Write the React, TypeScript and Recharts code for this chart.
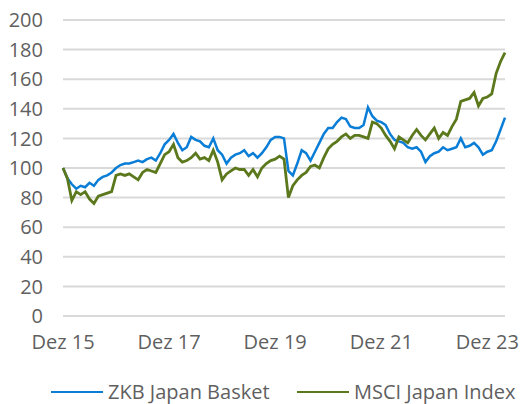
import { LineChart, Line, XAxis, YAxis, CartesianGrid, Legend } from 'recharts';

const MONTH_NAMES = ['Jan', 'Feb', 'Mär', 'Apr', 'Mai', 'Jun', 'Jul', 'Aug', 'Sep', 'Okt', 'Nov', 'Dez'];

// monthly labels from Dez 15 to Apr 24
const months: string[] = [];
for (let i = 0; i <= 100; i++) {
  const m = (11 + i) % 12;
  const y = 15 + Math.floor((11 + i) / 12);
  months.push(`${MONTH_NAMES[m]} ${y}`);
}

const zkbBasket = [
  100, 93, 89, 86, 88, 87, 90, 88, 92, 94, 95, 97, 100, 102, 103, 103, 104, 105, 104, 106,
  107, 105, 110, 116, 119, 123, 117, 112, 114, 121, 119, 118, 115, 114, 120, 112, 109, 103, 107, 109,
  110, 112, 108, 110, 107, 110, 114, 119, 121, 121, 120, 98, 95, 103, 112, 110, 105, 111, 117, 123,
  127, 127, 131, 134, 133, 128, 127, 127, 129, 141, 135, 132, 131, 129, 123, 119, 118, 117, 114, 113,
  114, 111, 104, 108, 110, 111, 114, 112, 113, 114, 120, 114, 115, 117, 114, 109, 111, 112, 118, 126,
  134,
];

const msciJapan = [
  100, 93, 78, 84, 82, 84, 79, 76, 81, 82, 83, 84, 95, 96, 95, 96, 94, 92, 97, 99,
  98, 97, 103, 109, 111, 116, 107, 104, 105, 107, 110, 106, 107, 105, 112, 104, 92, 96, 98, 100,
  99, 99, 95, 99, 94, 100, 103, 105, 106, 108, 106, 80, 88, 92, 95, 97, 101, 102, 100, 107,
  113, 116, 118, 121, 123, 120, 122, 122, 121, 120, 131, 130, 127, 122, 118, 113, 121, 119, 117, 122,
  126, 122, 119, 123, 127, 120, 124, 122, 128, 133, 145, 146, 147, 151, 142, 147, 148, 150, 164, 172,
  178,
];

const xTicks = ['Dez 15', 'Dez 17', 'Dez 19', 'Dez 21', 'Dez 23'];
const yTicks = [0, 20, 40, 60, 80, 100, 120, 140, 160, 180, 200];

const data = months.map((name, i) => ({ name, zkb: zkbBasket[i], msci: msciJapan[i] }));

const BLUE = '#0a7dd6';
const GREEN = '#5b781c';
const TEXT = '#5f5f5f';
const FONT_SIZE = 20;

const LegendBox = () => (
  <div style={{ position: 'relative', width: 520, height: 30, fontSize: FONT_SIZE, color: TEXT }}>
    {[
      { label: 'ZKB Japan Basket', color: BLUE, left: 51 },
      { label: 'MSCI Japan Index', color: GREEN, left: 297 },
    ].map((it) => (
      <div key={it.label} style={{ position: 'absolute', left: it.left, top: 6, height: 24, lineHeight: '24px', display: 'flex', alignItems: 'center', whiteSpace: 'nowrap' }}>
        <svg width={52} height={4} style={{ marginRight: 5 }}>
          <line x1={0} y1={2} x2={52} y2={2} stroke={it.color} strokeWidth={2} />
        </svg>
        <span>{it.label}</span>
      </div>
    ))}
  </div>
);

export default function App() {
  return (
    <div style={{ position: 'absolute', left: 0, top: 0, fontFamily: "'Open Sans', sans-serif" }}>
      <LineChart width={520} height={404} data={data} margin={{ top: 20, right: 15, left: 0, bottom: 0 }}>
        <CartesianGrid vertical={false} stroke='#d9d9d9' strokeWidth={2} />
        <XAxis
          dataKey='name'
          ticks={xTicks}
          interval={0}
          axisLine={false}
          tickLine={false}
          tickMargin={13}
          height={58}
          tick={{ fill: TEXT, fontSize: FONT_SIZE }}
        />
        <YAxis
          domain={[0, 200]}
          ticks={yTicks}
          axisLine={false}
          tickLine={false}
          tickMargin={14}
          width={63}
          tick={{ fill: TEXT, fontSize: FONT_SIZE }}
        />
        <Legend verticalAlign='bottom' content={() => <LegendBox />} />
        <Line type='linear' dataKey='zkb' stroke={BLUE} strokeWidth={2.5} dot={false} isAnimationActive={false} />
        <Line type='linear' dataKey='msci' stroke={GREEN} strokeWidth={2.8} dot={false} isAnimationActive={false} />
      </LineChart>
    </div>
  );
}
